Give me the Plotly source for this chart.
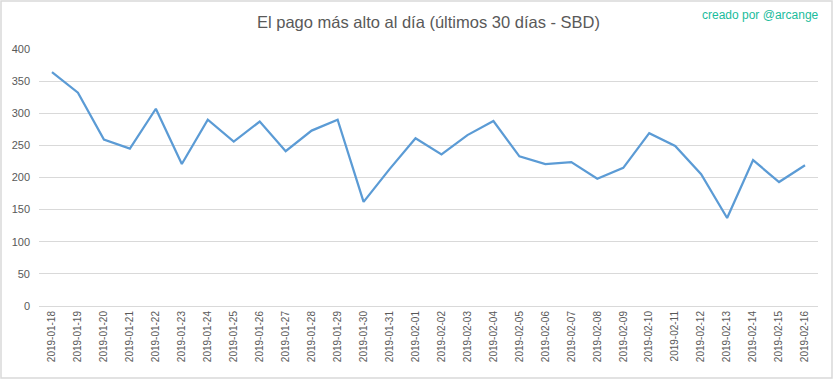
import plotly.graph_objects as go

dates = ["2019-01-18", "2019-01-19", "2019-01-20", "2019-01-21", "2019-01-22", "2019-01-23",
         "2019-01-24", "2019-01-25", "2019-01-26", "2019-01-27", "2019-01-28", "2019-01-29",
         "2019-01-30", "2019-01-31", "2019-02-01", "2019-02-02", "2019-02-03", "2019-02-04",
         "2019-02-05", "2019-02-06", "2019-02-07", "2019-02-08", "2019-02-09", "2019-02-10",
         "2019-02-11", "2019-02-12", "2019-02-13", "2019-02-14", "2019-02-15", "2019-02-16"]
pago_max = [364, 332, 259, 245, 307, 221, 290, 256, 287, 241, 273, 290,
            162, 213, 261, 236, 266, 288, 233, 221, 224, 198, 215, 269,
            249, 205, 137, 227, 193, 219]
y_ticks = [0, 50, 100, 150, 200, 250, 300, 350, 400]

W, H = 833, 379
L, R, T, B = 39, 15, 49, 73
pw, ph = W - L - R, H - T - B

fig = go.Figure()
fig.add_trace(go.Scatter(x=dates, y=pago_max, mode="lines",
                         line=dict(color="#5b9bd5", width=2.25), hoverinfo="x+y"))

fig.update_layout(
    width=W, height=H,
    margin=dict(l=L, r=R, t=T, b=B),
    paper_bgcolor="white", plot_bgcolor="white",
    showlegend=False,
    font=dict(family="Liberation Sans, Arial, sans-serif", color="#595959"),
    title=dict(text="El pago más alto al día (últimos 30 días - SBD)",
               x=0.5, xref="paper", xanchor="center",
               y=1 - 22 / H, yanchor="middle",
               font=dict(size=16.5, color="#595959", family="Liberation Sans, Arial, sans-serif")),
    xaxis=dict(type="category", range=[-0.5, len(dates) - 0.5],
               tickangle=-90, tickfont=dict(size=10, color="#595959"),
               showgrid=False, showline=True, linecolor="#d9d9d9", linewidth=1,
               ticks="", ticklen=0, zeroline=False),
    yaxis=dict(range=[0, 400], tickvals=y_ticks, ticktext=[str(v) for v in y_ticks],
               tickfont=dict(size=11, color="#595959"),
               showgrid=True, gridcolor="#d9d9d9", gridwidth=1,
               zeroline=False, showline=False, ticks="", ticklabelstandoff=8),
    shapes=[dict(type="rect", xref="paper", yref="paper",
                 x0=(1 - L) / pw, x1=(W - 1 - L) / pw,
                 y0=(H - B - (H - 1)) / ph, y1=(H - B - 1) / ph,
                 line=dict(color="#d9d9d9", width=1.5), layer="above")],
    annotations=[dict(text="creado por @arcange", xref="paper", yref="paper",
                      x=(821 - L) / pw, y=(H - B - 15) / ph, xanchor="right", yanchor="middle",
                      showarrow=False,
                      font=dict(size=12, color="#1abc9c", family="Liberation Sans, Arial, sans-serif"))],
)

fig.write_html("out.html", config={"displayModeBar": False},
               post_script="document.body.style.margin='0';document.body.style.overflow='hidden';")
